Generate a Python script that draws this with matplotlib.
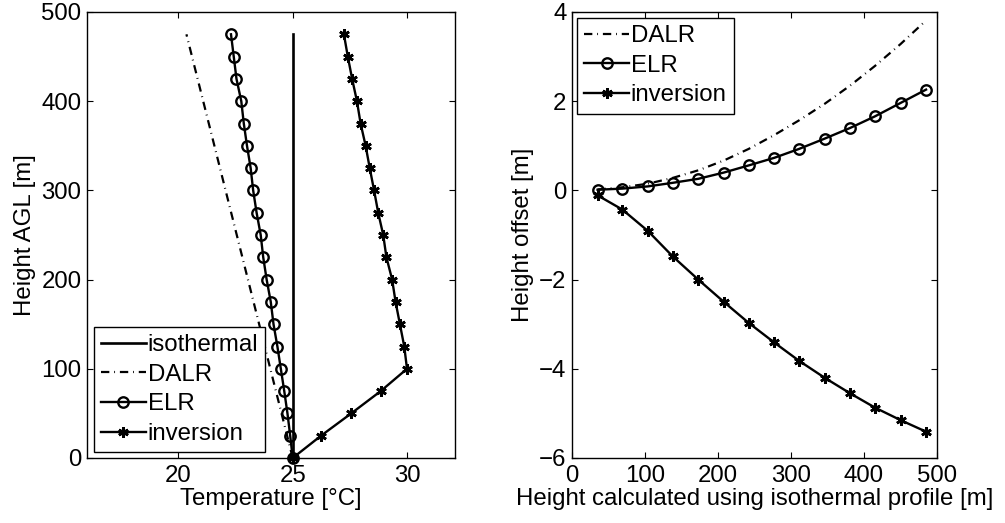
import numpy as np
import matplotlib
matplotlib.use("Agg")
import matplotlib.pyplot as plt

plt.rcParams['font.family'] = ['Liberation Sans', 'DejaVu Sans']
plt.rcParams['font.size'] = 17.3
plt.rcParams['lines.scale_dashes'] = False

# left panel: temperature profiles
height = [0, 25, 50, 75, 100, 125, 150, 175, 200, 225,
          250, 275, 300, 325, 350, 375, 400, 425, 450, 475]
temp_elr = [25.0, 24.89, 24.77, 24.63, 24.48, 24.33, 24.16, 24.04, 23.86, 23.71,
            23.6, 23.42, 23.27, 23.16, 23.0, 22.86, 22.75, 22.54, 22.42, 22.3]
temp_inv = [25.0, 26.24, 27.56, 28.85, 30.0, 29.88, 29.69, 29.5, 29.35, 29.1,
            28.96, 28.74, 28.56, 28.37, 28.19, 27.97, 27.81, 27.6, 27.41, 27.24]
iso_height = [0, 475]
iso_temp = [25.0, 25.0]
dalr_height = [0, 475]
dalr_temp = [25.0, 20.35]

# right panel: height offsets
h_iso = [35, 69, 104, 138, 173, 208, 242, 277, 311, 346, 381, 415, 450, 485]
off_dalr = [0.02, 0.07, 0.15, 0.28, 0.45, 0.67, 0.93, 1.24, 1.57, 1.94, 2.35, 2.79, 3.28, 3.81]
off_elr = [0.015, 0.04, 0.09, 0.17, 0.26, 0.40, 0.56, 0.73, 0.93, 1.16, 1.40, 1.66, 1.96, 2.26]
off_inv = [-0.11, -0.43, -0.91, -1.48, -2.0, -2.5, -2.97, -3.41, -3.82, -4.2, -4.55, -4.87, -5.15, -5.41]

dash_dot = (0, (6, 3.5, 0.6, 3.5))
ast = (6, 2, 0)
lw = 1.7

fig = plt.figure(figsize=(10.05, 5.23), dpi=100)
W, H = 1005, 523
ax1 = fig.add_axes([87/W, 1 - 458/H, (455-87)/W, (458-12)/H])
ax2 = fig.add_axes([572/W, 1 - 458/H, (937-572)/W, (458-12)/H])

ax1.plot(iso_temp, iso_height, '-', color='k', lw=1.9, label='isothermal')
ax1.plot(dalr_temp, dalr_height, color='k', lw=1.6, linestyle=dash_dot, label='DALR')
ax1.plot(temp_elr, height, '-', color='k', lw=lw, marker='o', ms=7.5,
         mfc='none', mew=1.7, label='ELR', clip_on=False)
ax1.plot(temp_inv, height, '-', color='k', lw=lw, marker=ast, ms=7.5,
         mew=1.9, label='inversion', clip_on=False)
ax1.set_xlim(16, 32.1)
ax1.set_ylim(0, 500)
ax1.set_xticks([20, 25, 30])
ax1.set_yticks([0, 100, 200, 300, 400, 500])
ax1.set_xlabel('Temperature [°C]', labelpad=1)
ax1.set_ylabel('Height AGL [m]', labelpad=4)

ax2.plot(h_iso, off_dalr, color='k', lw=1.6, linestyle=dash_dot, label='DALR')
ax2.plot(h_iso, off_elr, '-', color='k', lw=lw, marker='o', ms=7.5,
         mfc='none', mew=1.7, label='ELR')
ax2.plot(h_iso, off_inv, '-', color='k', lw=lw, marker=ast, ms=7.5,
         mew=1.9, label='inversion')
ax2.set_xlim(0, 500)
ax2.set_ylim(-6, 4)
ax2.set_xticks([0, 100, 200, 300, 400, 500])
ax2.set_yticks([-6, -4, -2, 0, 2, 4])
ax2.set_xlabel('Height calculated using isothermal profile [m]', labelpad=1)
ax2.set_ylabel('Height offset [m]', labelpad=4)

for ax in (ax1, ax2):
    ax.tick_params(direction='in', top=True, right=True, length=4, width=0.8, pad=5)
    ax.tick_params(axis='y', pad=4)
    for s in ax.spines.values():
        s.set_linewidth(1.0)

leg_kw = dict(numpoints=1, handlelength=1.85, handletextpad=0.08, borderpad=0.3,
              labelspacing=0.32, fancybox=False, framealpha=1, edgecolor='k',
              borderaxespad=0)
l1 = ax1.legend(loc='lower left', bbox_to_anchor=(0.019, 0.013), **leg_kw)
l2 = ax2.legend(loc='upper left', bbox_to_anchor=(0.014, 0.987), **leg_kw)
for l in (l1, l2):
    l.get_frame().set_linewidth(1.0)
    l.set_zorder(10)

fig.savefig('out.png', dpi=100)
